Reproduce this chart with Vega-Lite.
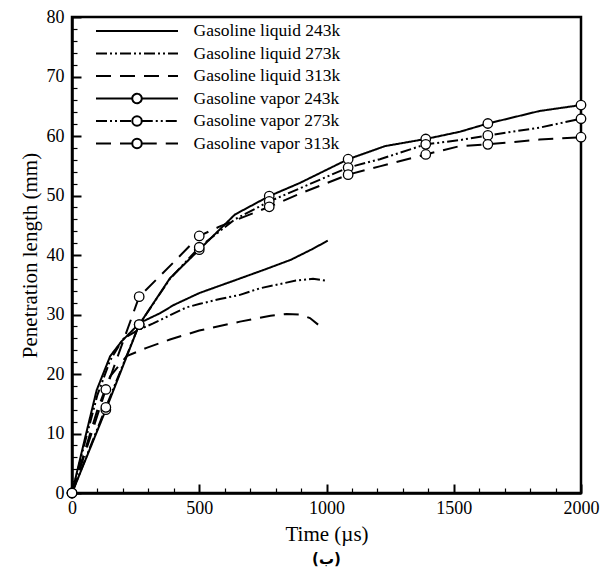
{
  "$schema": "https://vega.github.io/schema/vega-lite/v6.json",
  "width": 509,
  "height": 476,
  "autosize": {"type": "none"},
  "padding": {"left": 72, "top": 17, "right": 24, "bottom": 82},
  "background": "white",
  "title": {
    "text": "(ب)",
    "orient": "bottom",
    "anchor": "middle",
    "font": "DejaVu Sans",
    "fontWeight": "bold",
    "fontSize": 15,
    "color": "black",
    "offset": 8
  },
  "config": {
    "view": {"stroke": "black", "strokeWidth": 2.5},
    "axis": {
      "labelFont": "Liberation Serif",
      "labelFontSize": 18,
      "labelColor": "black",
      "titleFont": "Liberation Serif",
      "titleFontSize": 21,
      "titleFontWeight": "normal",
      "titleColor": "black",
      "domainColor": "black",
      "domainWidth": 2.5,
      "tickColor": "black",
      "grid": false,
      "labelFlush": false,
      "labelOverlap": false
    }
  },
  "datasets": {
    "curves": [
      {"series": "Gasoline liquid 243k", "t": 0, "len": 0},
      {"series": "Gasoline liquid 243k", "t": 50, "len": 9.0},
      {"series": "Gasoline liquid 243k", "t": 97, "len": 17.3},
      {"series": "Gasoline liquid 243k", "t": 150, "len": 23.0},
      {"series": "Gasoline liquid 243k", "t": 195, "len": 25.5},
      {"series": "Gasoline liquid 243k", "t": 267, "len": 28.6},
      {"series": "Gasoline liquid 243k", "t": 345, "len": 30.2},
      {"series": "Gasoline liquid 243k", "t": 400, "len": 31.6},
      {"series": "Gasoline liquid 243k", "t": 500, "len": 33.6},
      {"series": "Gasoline liquid 243k", "t": 650, "len": 35.9},
      {"series": "Gasoline liquid 243k", "t": 760, "len": 37.6},
      {"series": "Gasoline liquid 243k", "t": 860, "len": 39.2},
      {"series": "Gasoline liquid 243k", "t": 940, "len": 40.9},
      {"series": "Gasoline liquid 243k", "t": 1005, "len": 42.4},

      {"series": "Gasoline liquid 273k", "t": 0, "len": 0},
      {"series": "Gasoline liquid 273k", "t": 50, "len": 8.4},
      {"series": "Gasoline liquid 273k", "t": 100, "len": 16.5},
      {"series": "Gasoline liquid 273k", "t": 150, "len": 22.3},
      {"series": "Gasoline liquid 273k", "t": 201, "len": 25.9},
      {"series": "Gasoline liquid 273k", "t": 260, "len": 27.4},
      {"series": "Gasoline liquid 273k", "t": 319, "len": 28.5},
      {"series": "Gasoline liquid 273k", "t": 450, "len": 31.2},
      {"series": "Gasoline liquid 273k", "t": 503, "len": 31.8},
      {"series": "Gasoline liquid 273k", "t": 581, "len": 32.6},
      {"series": "Gasoline liquid 273k", "t": 660, "len": 33.3},
      {"series": "Gasoline liquid 273k", "t": 738, "len": 34.4},
      {"series": "Gasoline liquid 273k", "t": 804, "len": 35.0},
      {"series": "Gasoline liquid 273k", "t": 880, "len": 35.7},
      {"series": "Gasoline liquid 273k", "t": 947, "len": 36.0},
      {"series": "Gasoline liquid 273k", "t": 997, "len": 35.7},

      {"series": "Gasoline liquid 313k", "t": 0, "len": 0},
      {"series": "Gasoline liquid 313k", "t": 50, "len": 7.0},
      {"series": "Gasoline liquid 313k", "t": 100, "len": 14.0},
      {"series": "Gasoline liquid 313k", "t": 150, "len": 19.6},
      {"series": "Gasoline liquid 313k", "t": 215, "len": 23.0},
      {"series": "Gasoline liquid 313k", "t": 293, "len": 24.4},
      {"series": "Gasoline liquid 313k", "t": 385, "len": 25.8},
      {"series": "Gasoline liquid 313k", "t": 500, "len": 27.3},
      {"series": "Gasoline liquid 313k", "t": 660, "len": 28.8},
      {"series": "Gasoline liquid 313k", "t": 780, "len": 29.8},
      {"series": "Gasoline liquid 313k", "t": 843, "len": 30.1},
      {"series": "Gasoline liquid 313k", "t": 895, "len": 30.0},
      {"series": "Gasoline liquid 313k", "t": 935, "len": 29.4},
      {"series": "Gasoline liquid 313k", "t": 967, "len": 28.3},

      {"series": "Gasoline vapor 243k", "t": 0, "len": 0},
      {"series": "Gasoline vapor 243k", "t": 133, "len": 14.0},
      {"series": "Gasoline vapor 243k", "t": 264, "len": 28.3},
      {"series": "Gasoline vapor 243k", "t": 385, "len": 36.1},
      {"series": "Gasoline vapor 243k", "t": 500, "len": 40.9},
      {"series": "Gasoline vapor 243k", "t": 640, "len": 46.8},
      {"series": "Gasoline vapor 243k", "t": 775, "len": 49.9},
      {"series": "Gasoline vapor 243k", "t": 895, "len": 52.1},
      {"series": "Gasoline vapor 243k", "t": 1085, "len": 56.1},
      {"series": "Gasoline vapor 243k", "t": 1230, "len": 58.3},
      {"series": "Gasoline vapor 243k", "t": 1390, "len": 59.5},
      {"series": "Gasoline vapor 243k", "t": 1523, "len": 60.7},
      {"series": "Gasoline vapor 243k", "t": 1634, "len": 62.1},
      {"series": "Gasoline vapor 243k", "t": 1837, "len": 64.2},
      {"series": "Gasoline vapor 243k", "t": 2000, "len": 65.2},

      {"series": "Gasoline vapor 273k", "t": 0, "len": 0},
      {"series": "Gasoline vapor 273k", "t": 133, "len": 14.4},
      {"series": "Gasoline vapor 273k", "t": 264, "len": 28.3},
      {"series": "Gasoline vapor 273k", "t": 385, "len": 36.0},
      {"series": "Gasoline vapor 273k", "t": 500, "len": 41.3},
      {"series": "Gasoline vapor 273k", "t": 640, "len": 46.0},
      {"series": "Gasoline vapor 273k", "t": 775, "len": 49.0},
      {"series": "Gasoline vapor 273k", "t": 895, "len": 51.2},
      {"series": "Gasoline vapor 273k", "t": 1085, "len": 54.7},
      {"series": "Gasoline vapor 273k", "t": 1210, "len": 56.1},
      {"series": "Gasoline vapor 273k", "t": 1390, "len": 58.6},
      {"series": "Gasoline vapor 273k", "t": 1523, "len": 59.3},
      {"series": "Gasoline vapor 273k", "t": 1634, "len": 60.1},
      {"series": "Gasoline vapor 273k", "t": 1837, "len": 61.4},
      {"series": "Gasoline vapor 273k", "t": 2000, "len": 62.9},

      {"series": "Gasoline vapor 313k", "t": 0, "len": 0},
      {"series": "Gasoline vapor 313k", "t": 133, "len": 17.4},
      {"series": "Gasoline vapor 313k", "t": 264, "len": 33.0},
      {"series": "Gasoline vapor 313k", "t": 400, "len": 38.8},
      {"series": "Gasoline vapor 313k", "t": 500, "len": 43.2},
      {"series": "Gasoline vapor 313k", "t": 581, "len": 44.8},
      {"series": "Gasoline vapor 313k", "t": 775, "len": 48.1},
      {"series": "Gasoline vapor 313k", "t": 895, "len": 50.3},
      {"series": "Gasoline vapor 313k", "t": 1085, "len": 53.5},
      {"series": "Gasoline vapor 313k", "t": 1209, "len": 54.9},
      {"series": "Gasoline vapor 313k", "t": 1390, "len": 56.9},
      {"series": "Gasoline vapor 313k", "t": 1523, "len": 58.3},
      {"series": "Gasoline vapor 313k", "t": 1634, "len": 58.6},
      {"series": "Gasoline vapor 313k", "t": 1837, "len": 59.4},
      {"series": "Gasoline vapor 313k", "t": 2000, "len": 59.8}
    ],
    "markers": [
      {"series": "Gasoline vapor 243k", "t": 0, "len": 0},
      {"series": "Gasoline vapor 243k", "t": 133, "len": 14.0},
      {"series": "Gasoline vapor 243k", "t": 264, "len": 28.3},
      {"series": "Gasoline vapor 243k", "t": 500, "len": 40.9},
      {"series": "Gasoline vapor 243k", "t": 775, "len": 49.9},
      {"series": "Gasoline vapor 243k", "t": 1085, "len": 56.1},
      {"series": "Gasoline vapor 243k", "t": 1390, "len": 59.5},
      {"series": "Gasoline vapor 243k", "t": 1634, "len": 62.1},
      {"series": "Gasoline vapor 243k", "t": 2000, "len": 65.2},
      {"series": "Gasoline vapor 273k", "t": 0, "len": 0},
      {"series": "Gasoline vapor 273k", "t": 133, "len": 14.4},
      {"series": "Gasoline vapor 273k", "t": 264, "len": 28.3},
      {"series": "Gasoline vapor 273k", "t": 500, "len": 41.3},
      {"series": "Gasoline vapor 273k", "t": 775, "len": 49.0},
      {"series": "Gasoline vapor 273k", "t": 1085, "len": 54.7},
      {"series": "Gasoline vapor 273k", "t": 1390, "len": 58.6},
      {"series": "Gasoline vapor 273k", "t": 1634, "len": 60.1},
      {"series": "Gasoline vapor 273k", "t": 2000, "len": 62.9},
      {"series": "Gasoline vapor 313k", "t": 0, "len": 0},
      {"series": "Gasoline vapor 313k", "t": 133, "len": 17.4},
      {"series": "Gasoline vapor 313k", "t": 264, "len": 33.0},
      {"series": "Gasoline vapor 313k", "t": 500, "len": 43.2},
      {"series": "Gasoline vapor 313k", "t": 775, "len": 48.1},
      {"series": "Gasoline vapor 313k", "t": 1085, "len": 53.5},
      {"series": "Gasoline vapor 313k", "t": 1390, "len": 56.9},
      {"series": "Gasoline vapor 313k", "t": 1634, "len": 58.6},
      {"series": "Gasoline vapor 313k", "t": 2000, "len": 59.8}
    ]
  },
  "resolve": {"axis": {"x": "independent", "y": "independent"}},
  "layer": [
    {
      "data": {"name": "curves"},
      "transform": [{"filter": "indexof(datum.series, 'liquid') >= 0"}],
      "mark": {"type": "line", "color": "black", "strokeWidth": 2, "clip": false},
      "encoding": {
        "x": {
          "field": "t",
          "type": "quantitative",
          "title": "Time (µs)",
          "scale": {"domain": [0, 2000], "nice": false, "zero": true},
          "axis": {
            "orient": "bottom",
            "values": [0, 500, 1000, 1500, 2000],
            "format": "d",
            "ticks": false,
            "tickSize": 0,
            "labelPadding": 6,
            "titlePadding": 6
          }
        },
        "y": {
          "field": "len",
          "type": "quantitative",
          "title": "Penetration length (mm)",
          "scale": {"domain": [0, 80], "nice": false},
          "axis": {
            "orient": "left",
            "values": [0, 10, 20, 30, 40, 50, 60, 70, 80],
            "ticks": false,
            "tickSize": 0,
            "labelPadding": 8,
            "titlePadding": 6
          }
        },
        "strokeDash": {
          "field": "series",
          "type": "nominal",
          "scale": {
            "domain": ["Gasoline liquid 243k", "Gasoline liquid 273k", "Gasoline liquid 313k", "Gasoline vapor 243k", "Gasoline vapor 273k", "Gasoline vapor 313k"],
            "range": [[1, 0], [11, 3, 2, 3, 2, 3], [15, 9], [1, 0], [11, 3, 2, 3, 2, 3], [15, 9]]
          },
          "legend": {
            "title": null,
            "orient": "none",
            "legendX": 54,
            "legendY": 3,
            "padding": 0,
            "symbolType": "M-4.1,0H4.1",
            "symbolSize": 400,
            "symbolStrokeWidth": 2,
            "symbolStrokeColor": "black",
            "symbolFillColor": "white",
            "labelFont": "Liberation Serif",
            "labelFontSize": 17.5,
            "labelColor": "black",
            "labelLimit": 400,
            "labelOffset": 45.5,
            "rowPadding": 2.5,
            "encode": {
              "symbols": {
                "update": {
                  "shape": {"signal": "indexof(datum.value, 'vapor') >= 0 ? 'M-4.1,0H-0.475M0.475,0H4.1M-0.475,0A0.475,0.475,0,0,1,0,-0.475M0,-0.475A0.475,0.475,0,0,1,0.475,0M0.475,0A0.475,0.475,0,0,1,0,0.475M0,0.475A0.475,0.475,0,0,1,-0.475,0' : 'M-4.1,0H4.1'"}
                }
              }
            }
          }
        }
      }
    },
    {
      "data": {"name": "curves"},
      "transform": [{"filter": "indexof(datum.series, 'vapor') >= 0"}],
      "mark": {"type": "line", "color": "black", "strokeWidth": 2, "clip": false},
      "encoding": {
        "x": {
          "field": "t",
          "type": "quantitative",
          "axis": {
            "orient": "bottom",
            "title": null,
            "values": [0, 500, 1000, 1500, 2000],
            "labels": false,
            "domain": false,
            "offset": -9,
            "tickSize": 9,
            "tickWidth": 2
          }
        },
        "y": {
          "field": "len",
          "type": "quantitative",
          "axis": {
            "orient": "left",
            "title": null,
            "values": [0, 10, 20, 30, 40, 50, 60, 70, 80],
            "labels": false,
            "domain": false,
            "offset": -9,
            "tickSize": 9,
            "tickWidth": 2
          }
        },
        "strokeDash": {"field": "series", "type": "nominal"}
      }
    },
    {
      "data": {"name": "markers"},
      "mark": {"type": "point", "shape": "circle", "filled": true, "fill": "white", "stroke": "black", "strokeWidth": 1.3, "size": 90, "opacity": 1, "clip": false},
      "encoding": {
        "x": {
          "field": "t",
          "type": "quantitative",
          "axis": {
            "orient": "bottom",
            "title": null,
            "values": [100, 200, 300, 400, 600, 700, 800, 900, 1100, 1200, 1300, 1400, 1600, 1700, 1800, 1900],
            "labels": false,
            "domain": false,
            "offset": -5,
            "tickSize": 5,
            "tickWidth": 1.2
          }
        },
        "y": {
          "field": "len",
          "type": "quantitative",
          "axis": {
            "orient": "left",
            "title": null,
            "values": [2, 4, 6, 8, 12, 14, 16, 18, 22, 24, 26, 28, 32, 34, 36, 38, 42, 44, 46, 48, 52, 54, 56, 58, 62, 64, 66, 68, 72, 74, 76, 78],
            "labels": false,
            "domain": false,
            "offset": -5,
            "tickSize": 5,
            "tickWidth": 1.2
          }
        }
      }
    }
  ]
}
